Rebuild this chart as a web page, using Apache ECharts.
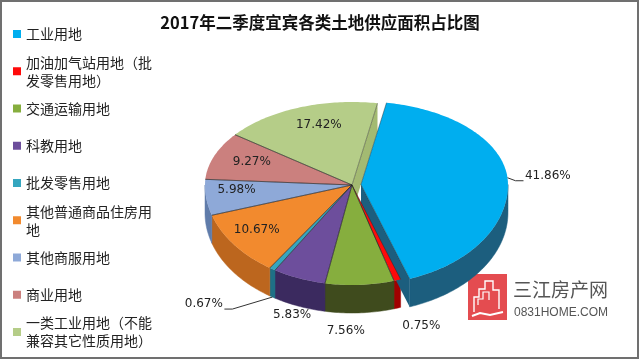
<!DOCTYPE html>
<html><head><meta charset="utf-8">
<script src="https://cdn.jsdelivr.net/npm/echarts@6/dist/echarts.min.js"></script>
<style>html,body{margin:0;padding:0;background:#fff}#c{width:640px;height:360px}</style>
</head><body><div id="c"></div>
<script>
// ---- data ----
const titleText = '2017年二季度宜宾各类土地供应面积占比图';
const categories = ['工业用地','加油加气站用地（批发零售用地）','交通运输用地','科教用地','批发零售用地','其他普通商品住房用地','其他商服用地','商业用地','一类工业用地（不能兼容其它性质用地）'];
const shares = [41.86, 0.75, 7.56, 5.83, 0.67, 10.67, 5.98, 9.27, 17.42];

// ---- styles / layout ----
const topColors  = ['#00AEEF','#FF0A0A','#86AE3E','#6D4E9C','#35A6BF','#F28A2E','#8EA9D8','#CB807E','#B5CD88'];
const sideColors = ['#1C5E7E','#A00000','#3F4B1D','#3B2A5F','#1F7086','#BC661E','#607CAA','#8E5553','#A3BA72'];
const labelModes = ['lineOut','below','below','below','lineOut','inside','inside','inside','inside'];
const labelShift = [[0,0],[24,2],[-14,2],[-7,-7],[0,0],[-7,0],[-6,-4],[3,-1],[7,-2]];
const explodeBy  = [9,0,0,0,0,0,0,0,0];
const leaderVec  = [[8,3],null,null,null,[-40,12],null,null,null,null];
const G = {cx:352, cy:185, rx:147, ryB:83, ryF:100, depth:28, start:10};

const total = shares.reduce((a,b)=>a+b,0);
const cum = []; (function(){let acc=0; shares.forEach(v=>{cum.push(acc); acc+=v;});})();
const R = Math.PI/180;

function pt(deg, f, ox, oy, dz){
  const s=Math.sin(deg*R), c=Math.cos(deg*R);
  const ry = c>=0 ? G.ryB : G.ryF;
  return [G.cx + G.rx*f*s + ox, G.cy - ry*f*c + oy + (dz||0)];
}
function arc(a,b,ox,oy,dz){
  const p=[]; for(let d=a; d<b; d+=1) p.push(pt(d,1,ox,oy,dz)); p.push(pt(b,1,ox,oy,dz)); return p;
}
const labelFont = {fontSize:12, fontFamily:'DejaVu Sans', fill:'#222'};

function makeRender(i){
  return function(params, api){
    const n = shares.length;
    const a = G.start + cum[i]/total*360, b = G.start + (cum[i]+shares[i])/total*360;
    const mid=(a+b)/2, e=explodeBy[i];
    const ox = e*Math.sin(mid*R), oy = -e*Math.cos(mid*R)*0.7;
    const ch = [];
    const C = pt(0,0,ox,oy);
    // top surface
    ch.push({type:'polygon', z2:10, shape:{points:[C].concat(arc(a,b,ox,oy))}, style:{fill:topColors[i]}});
    ch.push({type:'polyline', z2:11, shape:{points:[pt(a,1,ox,oy),C,pt(b,1,ox,oy)]}, style:{stroke:'rgba(35,35,35,0.55)', lineWidth:0.8, fill:null}});
    // outer wall (front half only)
    const s0=Math.max(a,90), s1=Math.min(b,270);
    if (s1>s0){
      const up=arc(s0,s1,ox,oy), lo=arc(s0,s1,ox,oy,G.depth).reverse();
      ch.push({type:'polygon', z2:1, shape:{points:up.concat(lo)}, style:{fill:sideColors[i], stroke:sideColors[i], lineWidth:0.5}});
    }
    // radial cut faces exposed by an exploded slice
    const prevEx = explodeBy[(i-1+n)%n]>0, nextEx = explodeBy[(i+1)%n]>0;
    [[b, b+90, e>0||nextEx],[a, a-90, e>0||prevEx]].forEach(([ang,nrm,ok])=>{
      if(!ok || Math.cos(nrm*R) >= 0) return;
      const Rt=pt(ang,1,ox,oy);
      ch.push({type:'polygon', z2:2, shape:{points:[C,Rt,[Rt[0],Rt[1]+G.depth],[C[0],C[1]+G.depth]]}, style:{fill:sideColors[i]}});
    });
    // label
    const txt = shares[i].toFixed(2)+'%';
    const mode = labelModes[i], sh = labelShift[i];
    if (mode==='inside'){
      const p=pt(mid,0.75,ox,oy);
      ch.push({type:'text', z2:20, x:p[0]+sh[0], y:p[1]+sh[1], style:Object.assign({text:txt, align:'center', verticalAlign:'middle'},labelFont)});
    } else if (mode==='below'){
      const p=pt(mid,1,ox,oy,G.depth);
      ch.push({type:'text', z2:20, x:p[0]+sh[0], y:p[1]+16+sh[1], style:Object.assign({text:txt, align:'center', verticalAlign:'middle'},labelFont)});
    } else {
      const front = Math.cos(mid*R)<0;
      const p1=pt(mid,1,ox,oy, front?G.depth:0);
      const v=leaderVec[i], dir = v[0]>=0?1:-1;
      const p2=[p1[0]+v[0], p1[1]+v[1]], p3=[p2[0]+dir*8, p2[1]];
      ch.push({type:'polyline', z2:19, shape:{points:[p1,p2,p3]}, style:{stroke:'#333', lineWidth:1, fill:null}});
      ch.push({type:'text', z2:20, x:p3[0]+dir*1.5, y:p3[1]+1, style:Object.assign({text:txt, align:dir>0?'left':'right', verticalAlign:'bottom'},labelFont)});
    }
    return {type:'group', children:ch};
  };
}

const series = categories.map((name,i)=>({
  type:'custom', name:name, coordinateSystem:'none',
  itemStyle:{color:topColors[i]},
  data:[[shares[i]]],
  renderItem: makeRender(i)
}));

const legends = categories.map((name,i)=>{
  const wrapped = name.length > 9;
  const yc = 34 + 37.25*i;
  return {
    data:[name], orient:'vertical', left:13, top: yc - (wrapped?27:9), padding:0,
    itemWidth:8, itemHeight:8, icon:'rect', itemStyle:{color:topColors[i]},
    textStyle:{fontSize:14, fontFamily:'Noto Sans CJK SC', color:'#222', lineHeight:18,
      width:135, overflow:'break', padding: wrapped?[18,0,0,0]:0}
  };
});

const chart = echarts.init(document.getElementById('c'), null, {renderer:'canvas'});
chart.setOption({
  animation:false,
  backgroundColor:'#fff',
  title:{text:titleText, left:'center', top:14, padding:0,
    textStyle:{fontSize:16.5, fontWeight:'bold', fontFamily:'Noto Sans CJK SC', color:'#111'}},
  legend: legends,
  series: series,
  graphic:[
    {type:'rect', shape:{x:1,y:1,width:637,height:357}, style:{fill:null, stroke:'#707070', lineWidth:2}, z:100},
    {type:'group', z:50, children:[
      {type:'rect', shape:{x:468,y:274,width:39,height:46}, style:{fill:'#E44C50'}},
      {type:'polyline', shape:{points:[[474,312],[474,297],[479,297],[479,289],[485,289],[485,281],[493,281],[493,290],[499,290],[499,309]]}, style:{stroke:'#fff', lineWidth:1.4, fill:null}},
      {type:'polyline', shape:{points:[[478,305],[478,299],[483,299],[483,292],[489,292],[489,300]]}, style:{stroke:'#fff', lineWidth:1.2, fill:null}},
      {type:'polyline', shape:{points:[[472,316],[480,313],[490,315],[503,312]]}, style:{stroke:'#fff', lineWidth:2, fill:null}},
      {type:'text', x:513, y:290, style:{text:'三江房产网', fontSize:19, fontFamily:'Noto Sans CJK SC', fill:'#555', verticalAlign:'middle'}},
      {type:'text', x:514, y:313, style:{text:'0831HOME.COM', fontSize:12, fontFamily:'Liberation Sans', fill:'#555', verticalAlign:'middle'}}
    ]}
  ]
});
</script>
</body></html>
